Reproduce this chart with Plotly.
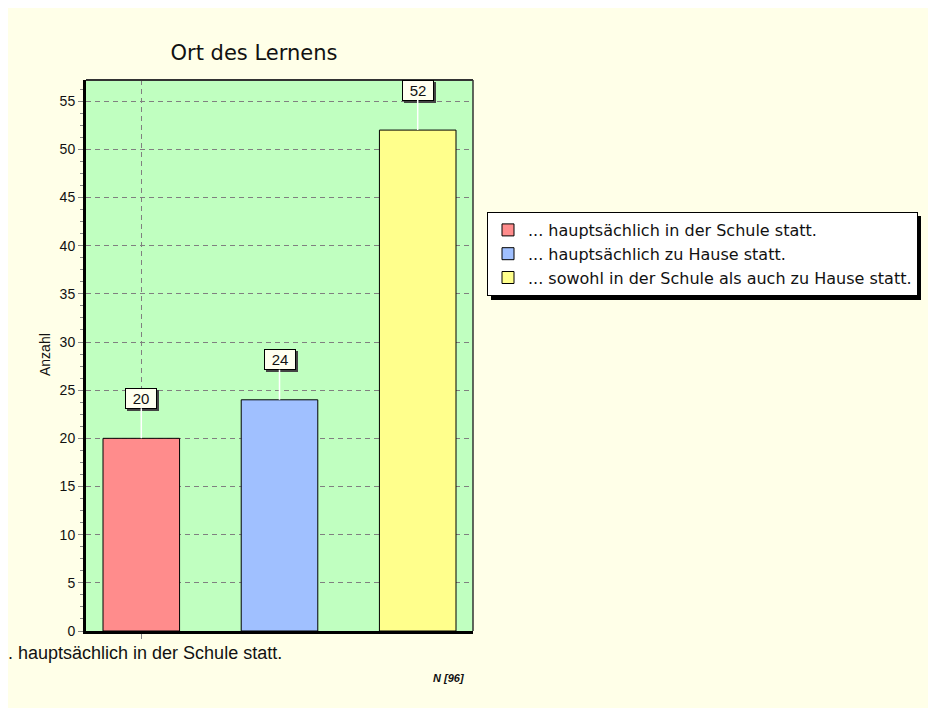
import plotly.graph_objects as go

categories = ["... hauptsächlich in der Schule statt.",
              "... hauptsächlich zu Hause statt.",
              "... sowohl in der Schule als auch zu Hause statt."]
values = [20, 24, 52]
colors = ["#FF8C8C", "#A0C0FF", "#FFFF8C"]
x_tick_label = ". hauptsächlich in der Schule statt."
title_text = "Ort des Lernens"
y_title = "Anzahl"
n_text = "N [96]"

W, H = 936, 708
L, R, T, B = 78, 465, 72, 623
pw, ph = R - L, B - T

def px(x):
    return (x - L) / pw

def py(y):
    return (B - y) / ph

fig = go.Figure()
for i, (c, v, col) in enumerate(zip(categories, values, colors)):
    fig.add_trace(go.Bar(x=[i], y=[v], name=c, width=0.554,
                         marker=dict(color=col, line=dict(color="black", width=1))))

annotations = []
for i, v in enumerate(values):
    annotations.append(dict(x=i, y=v, xref="x", yref="y", text="&nbsp;",
                            showarrow=True, arrowhead=0, arrowwidth=0.1,
                            arrowcolor="rgba(0,0,0,0)", ax=0, ay=-40,
                            xshift=2, yshift=-2, width=28, height=17,
                            font=dict(size=15, color="rgba(0,0,0,0)", family="Liberation Sans"),
                            bgcolor="#444444", bordercolor="#444444", borderwidth=1, borderpad=1))
    annotations.append(dict(x=i, y=v, xref="x", yref="y", text=str(v),
                            showarrow=True, arrowhead=0, arrowwidth=1.5,
                            arrowcolor="white", ax=0, ay=-40, width=28, height=17,
                            font=dict(size=15, color="#111111", family="Liberation Sans"),
                            bgcolor="#FFFFF0", bordercolor="black", borderwidth=1, borderpad=1))

annotations.append(dict(x=px(37), y=py(347), xref="paper", yref="paper", text=y_title,
                        showarrow=False, textangle=-90, xanchor="center", yanchor="middle",
                        font=dict(size=14, color="#111111", family="Liberation Sans")))
annotations.append(dict(x=px(458), y=py(670), xref="paper", yref="paper", text="<b><i>" + n_text + "</i></b>",
                        showarrow=False, xanchor="right", yanchor="middle",
                        font=dict(size=11, color="#111111", family="Liberation Sans")))
annotations.append(dict(x=0, y=py(645), xref="x", yref="paper", text=x_tick_label,
                        showarrow=False, xanchor="center", yanchor="middle", xshift=4,
                        font=dict(size=18, color="#111111", family="Liberation Sans")))

shapes = [
    dict(type="line", xref="paper", yref="paper", x0=0, x1=1, y0=1, y1=1,
         line=dict(color="#333333", width=2)),
    dict(type="line", xref="paper", yref="paper", x0=1, x1=1, y0=0, y1=1,
         line=dict(color="#333333", width=1.5)),
    # legend shadow
    dict(type="rect", xref="paper", yref="paper", x0=px(483), x1=px(913), y0=py(292), y1=py(208),
         fillcolor="black", line=dict(width=0), layer="below"),
]

fig.update_layout(
    width=W, height=H,
    margin=dict(l=L, r=W - R, t=T, b=H - B, pad=0),
    paper_bgcolor="#FFFFE8",
    plot_bgcolor="#C0FFC0",
    barmode="overlay",
    title=dict(text=title_text, x=246 / W, xanchor="center", y=1 - 45 / H, yanchor="middle",
               font=dict(size=21, color="#111111", family="DejaVu Sans")),
    font=dict(family="Liberation Sans", color="#111111"),
    showlegend=True,
    legend=dict(x=px(479), y=py(204), xanchor="left", yanchor="top",
                bgcolor="white", bordercolor="black", borderwidth=1,
                font=dict(size=16, color="#111111", family="DejaVu Sans"),
                itemwidth=30, tracegroupgap=0),
    xaxis=dict(range=[-0.4, 2.4], tickmode="array", tickvals=[0], ticktext=[""],
               showgrid=True, gridcolor="#808080", griddash="5px,4px", gridwidth=1,
               showline=True, linecolor="black", linewidth=3,
               ticks="outside", ticklen=5, tickcolor="#888888",
               zeroline=False, fixedrange=True),
    yaxis=dict(range=[0, 57.2], dtick=5, tick0=0,
               showgrid=True, gridcolor="#808080", griddash="5px,4px", gridwidth=1,
               showline=True, linecolor="black", linewidth=3,
               ticks="outside", ticklen=5, tickcolor="#888888",
               minor=dict(dtick=1.25, ticks="outside", ticklen=3, tickcolor="#888888", showgrid=False),
               tickfont=dict(size=14, color="#111111", family="Liberation Sans"),
               zeroline=False, fixedrange=True),
    annotations=annotations,
    shapes=shapes,
)

fig.write_html("out.html")
